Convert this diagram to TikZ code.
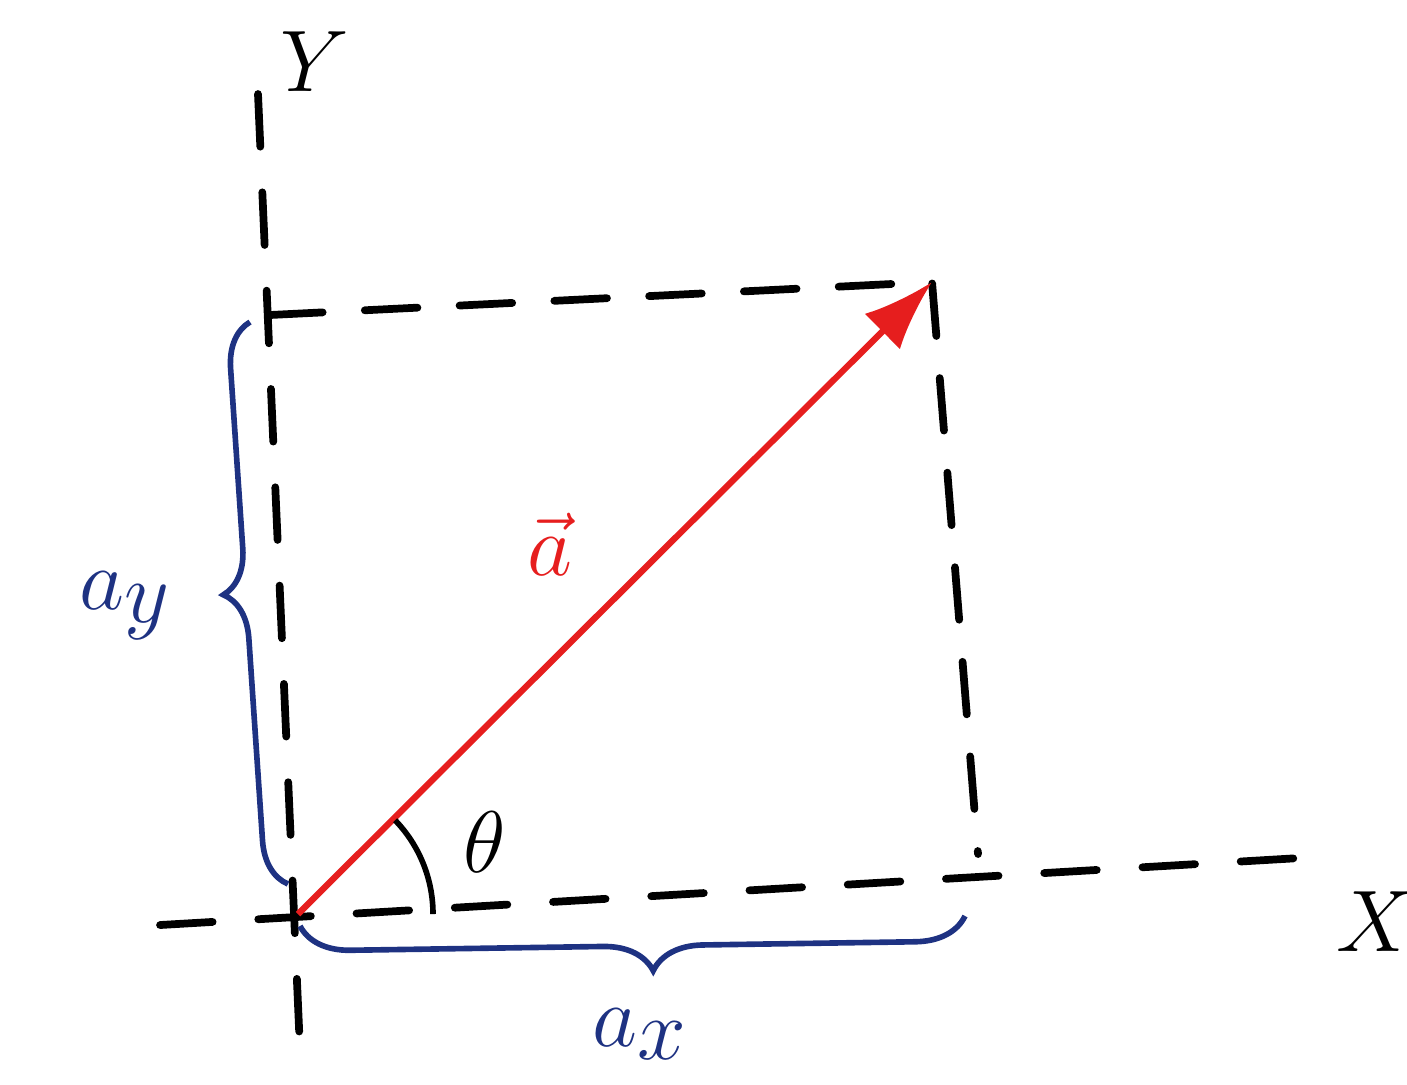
\documentclass[tikz,border=0pt]{standalone}
\usepackage{tikz}
\usetikzlibrary{arrows.meta,decorations.pathreplacing}
\definecolor{inkblue}{RGB}{30,50,130}
\definecolor{inkred}{RGB}{230,30,30}

\begin{document}
\begin{tikzpicture}[
  axis/.style={line width=2.2pt,dash pattern=on 15pt off 13pt,line cap=round},
  guide/.style={line width=2.2pt,dash pattern=on 15pt off 12pt,line cap=round},
  vec/.style={-{Latex[length=7mm,width=5mm]},line width=1.8pt,draw=inkred},
  brc/.style={decorate,line width=1.6pt,draw=inkblue},
  lbl/.style={font=\fontsize{44}{48}\selectfont,inner sep=0pt}]
\useasboundingbox (0,0) rectangle (14.07,10.84);
\coordinate (O) at (2.98,1.70);
\coordinate (ytop) at (2.58,9.90);
\coordinate (ybot) at (3.00,0.34);
\coordinate (xleft) at (1.60,1.59);
\coordinate (xright) at (13.00,2.26);
\coordinate (A) at (9.32,8.02);
\coordinate (tl) at (2.70,7.69);
\coordinate (br) at (9.78,2.30);
\draw[axis] (ytop) -- (ybot);
\draw[axis] (xleft) -- (xright);
\draw[guide] (tl) -- (A) -- (br);
\draw[vec] (O) -- (A);
\draw[line width=1.6pt] ([shift={(1.35,0)}]O) arc[start angle=0,end angle=44,radius=1.35];
\draw[brc,decoration={brace,amplitude=4.5mm,aspect=0.52}] (2.88,2.00) -- (2.50,7.62);
\draw[brc,decoration={brace,amplitude=5mm,aspect=0.47}] (9.65,1.68) -- (3.00,1.58);
\node[lbl] (ylab) at (3.15,10.22) {$Y$};
\node[lbl] (xlab) at (13.75,1.62) {$X$};
\node[lbl,text=inkblue] (aylab) at (1.25,4.78) {$a_y$};
\node[lbl,text=inkblue] (axlab) at (6.40,0.50) {$a_x$};
\node[lbl,text=inkred] (alab) at (5.50,5.40) {$\vec{a}$};
\node[lbl] (thlab) at (4.85,2.42) {$\theta$};
\end{tikzpicture}
\end{document}
